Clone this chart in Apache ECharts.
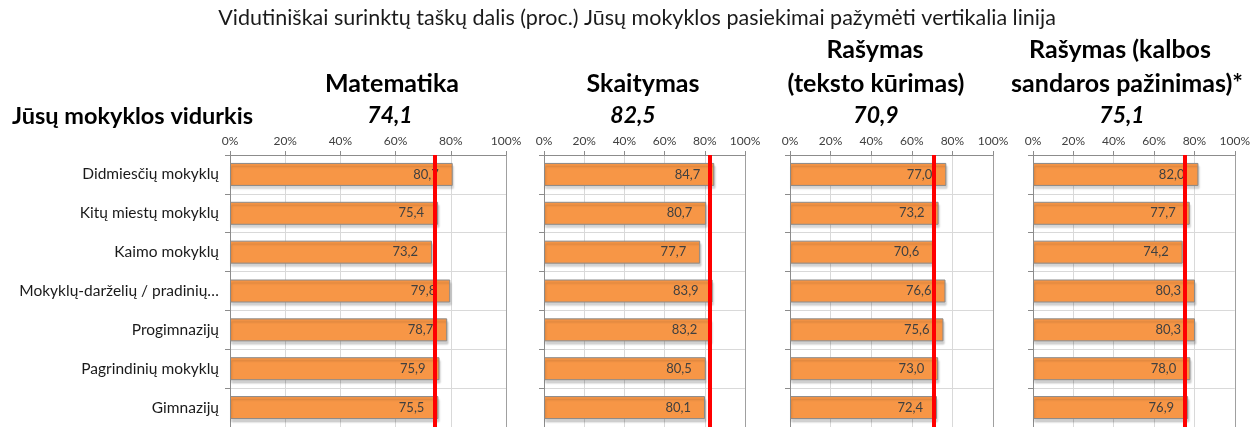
<!DOCTYPE html>
<html><head><meta charset="utf-8">
<script src="https://cdn.jsdelivr.net/npm/echarts@6/dist/echarts.min.js"></script>
<style>html,body{margin:0;padding:0;background:#fff}#c{width:1253px;height:427px}</style>
</head><body><div id="c"></div>
<script>
const categories = ['Didmiesčių mokyklų','Kitų miestų mokyklų','Kaimo mokyklų','Mokyklų-darželių / pradinių…','Progimnazijų','Pagrindinių mokyklų','Gimnazijų'];
const matematika = [80.7, 75.4, 73.2, 79.8, 78.7, 75.9, 75.5];
const skaitymas = [84.7, 80.7, 77.7, 83.9, 83.2, 80.5, 80.1];
const rasymasTeksto = [77.0, 73.2, 70.6, 76.6, 75.6, 73.0, 72.4];
const rasymasKalbos = [82.0, 77.7, 74.2, 80.3, 80.3, 78.0, 76.9];
const schoolAvg = [74.1, 82.5, 70.9, 75.1];
const subjectTitles = [['Matematika'], ['Skaitymas'], ['Rašymas', '(teksto kūrimas)'], ['Rašymas (kalbos', 'sandaros pažinimas)*']];
const mainTitle = 'Vidutiniškai surinktų taškų dalis (proc.) Jūsų mokyklos pasiekimai pažymėti vertikalia linija';
const avgLabel = 'Jūsų mokyklos vidurkis';

const FONT = 'Lato';
const seriesData = [matematika, skaitymas, rasymasTeksto, rasymasKalbos];
const fmt = v => v.toFixed(1).replace('.', ',');
const panels = [
  {left: 230, width: 276, cx: [392], avgCx: 390},
  {left: 544, width: 201, cx: [643], avgCx: 633},
  {left: 790, width: 203, cx: [875, 876], avgCx: 876},
  {left: 1033, width: 202, cx: [1120, 1127], avgCx: 1122}
];
const gridTop = 155, gridH = 273;

const grid = [], xAxis = [], yAxis = [], series = [], graphic = [];
panels.forEach((p, i) => {
  grid.push({left: p.left, width: p.width, top: gridTop, height: gridH});
  xAxis.push({
    type: 'value', gridIndex: i, min: 0, max: 100, interval: 20, position: 'top',
    axisLine: {show: true, lineStyle: {color: '#8c8c8c', width: 1}},
    axisTick: {show: true, length: 4, lineStyle: {color: '#8c8c8c'}},
    axisLabel: {formatter: v => v + '%', fontSize: 12, color: '#404040', margin: 8, fontFamily: FONT},
    splitLine: {show: true, lineStyle: {color: '#d9d9d9'}}
  });
});
panels.forEach((p, i) => {
  yAxis.push({
    type: 'category', gridIndex: i, inverse: true, data: categories,
    axisLine: {show: true, lineStyle: {color: '#8c8c8c'}},
    axisTick: {show: true, length: 5, lineStyle: {color: '#8c8c8c'}},
    splitLine: {show: true, lineStyle: {color: '#d9d9d9'}},
    axisLabel: {show: i === 0, fontSize: 15.5, color: '#1a1a1a', margin: 11, fontFamily: FONT}
  });
});
panels.forEach((p, i) => {
  yAxis.push({
    type: 'category', gridIndex: i, inverse: true, data: categories, position: 'right',
    axisLine: {show: true, lineStyle: {color: '#a0a0a0'}},
    axisTick: {show: false}, axisLabel: {show: false}, splitLine: {show: false}
  });
});
panels.forEach((p, i) => {
  series.push({
    type: 'bar', xAxisIndex: i, yAxisIndex: i, data: seriesData[i], barWidth: 23,
    itemStyle: {color: '#F79646', borderColor: '#8a8a8a', borderWidth: 1,
      shadowColor: 'rgba(0,0,0,0.18)', shadowOffsetY: 3, shadowOffsetX: 1, shadowBlur: 2},
    label: {show: true, position: 'insideRight', distance: 14, formatter: d => fmt(d.value),
      color: '#404040', fontSize: 13, fontFamily: FONT},
    markLine: {silent: true, symbol: 'none', animation: false,
      data: [{xAxis: schoolAvg[i]}],
      lineStyle: {color: '#ff0000', width: 4, type: 'solid'}, label: {show: false}},
    z: 2
  });
  const lines = subjectTitles[i];
  lines.forEach((t, k) => {
    const y = 84 - (lines.length - 1 - k) * 34;
    graphic.push({type: 'text', x: p.cx[k], y: y,
      style: {text: t, font: 'bold 25px ' + FONT, fill: '#000', align: 'center', verticalAlign: 'middle'}});
  });
  graphic.push({type: 'text', x: p.avgCx, y: 116,
    style: {text: fmt(schoolAvg[i]), font: 'italic bold 23px ' + FONT, fill: '#000', align: 'center', verticalAlign: 'middle'}});
});
graphic.push({type: 'text', x: 637, y: 18,
  style: {text: mainTitle, font: '21.5px ' + FONT, fill: '#1a1a1a', align: 'center', verticalAlign: 'middle'}});
graphic.push({type: 'text', x: 12, y: 116,
  style: {text: avgLabel, font: 'bold 23.5px ' + FONT, fill: '#000', align: 'left', verticalAlign: 'middle'}});

const chart = echarts.init(document.getElementById('c'));
chart.setOption({animation: false, grid, xAxis, yAxis, series, graphic});
</script>
</body></html>
